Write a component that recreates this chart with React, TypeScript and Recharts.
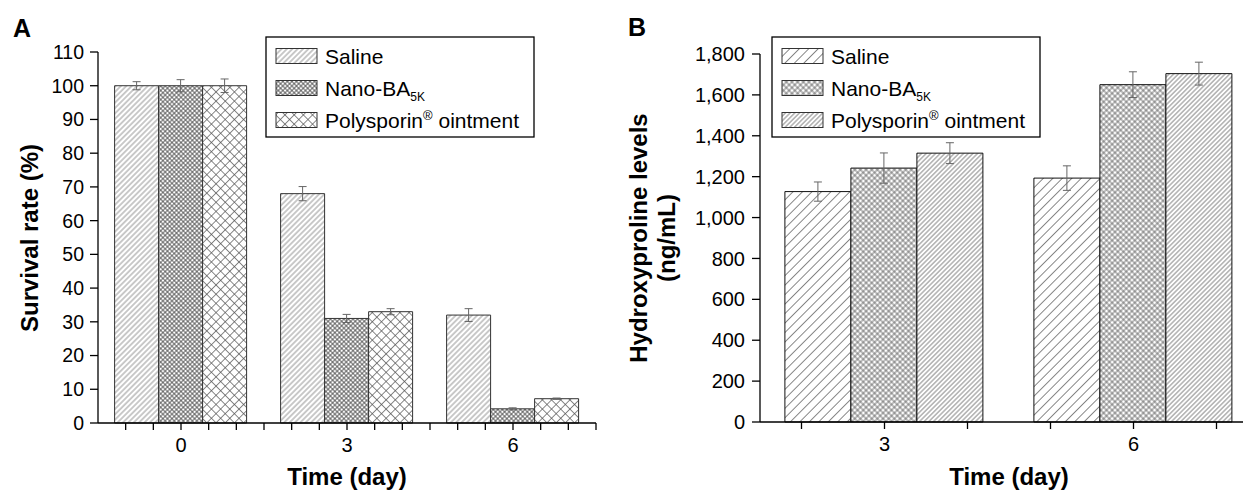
import React from 'react';
import { BarChart, Bar, XAxis, YAxis, ErrorBar } from 'recharts';

// panel A: survival rate
const daysA = ['0', '3', '6'];
const salineA = [100, 68, 32];
const salineAErr = [1.2, 2.1, 1.9];
const nanoA = [100, 31, 4.2];
const nanoAErr = [1.8, 1.2, 0.3];
const polyA = [100, 33, 7.2];
const polyAErr = [2.0, 0.9, 0.2];
const ticksA = [0, 10, 20, 30, 40, 50, 60, 70, 80, 90, 100, 110];

// panel B: hydroxyproline
const daysB = ['3', '6'];
const salineB = [1127, 1193];
const salineBErr = [47, 60];
const nanoB = [1242, 1650];
const nanoBErr = [74, 63];
const polyB = [1315, 1704];
const polyBErr = [51, 56];
const ticksB = [0, 200, 400, 600, 800, 1000, 1200, 1400, 1600, 1800];

const dataA = daysA.map((day, i) => ({
    day,
    saline: salineA[i], salineErr: salineAErr[i],
    nano: nanoA[i], nanoErr: nanoAErr[i],
    poly: polyA[i], polyErr: polyAErr[i],
}));

const dataB = daysB.map((day, i) => ({
    day,
    saline: salineB[i], salineErr: salineBErr[i],
    nano: nanoB[i], nanoErr: nanoBErr[i],
    poly: polyB[i], polyErr: polyBErr[i],
}));

const FONT = '"Liberation Sans", Arial, Helvetica, sans-serif';
const TICK_LEN = 7;
const TICK_GAP = 8;

const Hatch = ({ id, size, cross = false, stroke = '#666', sw = 0.7 }) => (
    <pattern id={id} patternUnits="userSpaceOnUse" width={size} height={size} patternTransform="rotate(45)">
        <rect width={size} height={size} fill="#fff" />
        <line x1={size / 2} y1={0} x2={size / 2} y2={size} stroke={stroke} strokeWidth={sw} />
        {cross && <line x1={0} y1={size / 2} x2={size} y2={size / 2} stroke={stroke} strokeWidth={sw} />}
    </pattern>
);

// category tick with the extra little tick marks between groups
const makeTick = (steps: number[], div: number) => (props) => {
    const { x, y, payload } = props;
    const band = (payload.offset || 0) * 2;
    const axisY = y - TICK_LEN - TICK_GAP;
    return (
        <g>
            {steps.map(k => (
                <line key={k} x1={x + k * band / div} x2={x + k * band / div} y1={axisY} y2={axisY + TICK_LEN} stroke="#000" strokeWidth={1.3} />
            ))}
            <text x={x} y={y} dy="0.71em" textAnchor="middle" fontSize={20} fontFamily={FONT} fill="#000">{payload.value}</text>
        </g>
    );
};

const tickA = makeTick([-2, -1, 0, 1, 2, 3], 6);
const tickB = makeTick([-1, 0, 1], 3);

const LegendBox = ({ x, y, ids }) => {
    const rows = [
        { id: ids[0], label: <tspan>Saline</tspan> },
        { id: ids[1], label: <><tspan>Nano-BA</tspan><tspan fontSize={12} dy={5}>5K</tspan></> },
        { id: ids[2], label: <><tspan>Polysporin</tspan><tspan fontSize={13} dy={-8}>®</tspan><tspan dy={8}> ointment</tspan></> },
    ];
    return (
        <g>
            <rect x={x} y={y} width={268} height={100} fill="#fff" stroke="#000" strokeWidth={1.3} />
            {rows.map((r, i) => (
                <g key={i}>
                    <rect x={x + 10} y={y + 11.5 + i * 32} width={41} height={15} fill={`url(#${r.id})`} stroke="#333" strokeWidth={1} />
                    <text x={x + 59} y={y + 26.5 + i * 32} fontSize={21} fontFamily={FONT} fill="#000">{r.label}</text>
                </g>
            ))}
        </g>
    );
};

const axisStyle = { stroke: '#000', strokeWidth: 1.3 };
const yTickA = { fill: '#000', fontSize: 19.5, fontFamily: FONT };
const yTickB = { fill: '#000', fontSize: 20, fontFamily: FONT };

export default function App() {
    return (
        <div style={{ position: 'absolute', left: 0, top: 0, width: 1243, height: 493, overflow: 'hidden', background: '#fff' }}>
            <div style={{ position: 'absolute', left: 0, top: 0 }}>
                <BarChart width={620} height={493} data={dataA} margin={{ top: 52, right: 24, bottom: 40, left: 38 }} barCategoryGap="10%" barGap={0}>
                    <XAxis dataKey="day" interval={0} height={30} tickSize={TICK_LEN} tickMargin={TICK_GAP} tickLine={false} axisLine={axisStyle} tick={tickA} />
                    <YAxis domain={[0, 110]} ticks={ticksA} width={60} tickSize={8} tickMargin={6} axisLine={axisStyle} tickLine={axisStyle} tick={yTickA} />
                    <Bar dataKey="saline" fill="url(#aSal)" stroke="#333" strokeWidth={1} isAnimationActive={false}>
                        <ErrorBar dataKey="salineErr" width={4} stroke="#666" strokeWidth={1} isAnimationActive={false} />
                    </Bar>
                    <Bar dataKey="nano" fill="url(#aNano)" stroke="#333" strokeWidth={1} isAnimationActive={false}>
                        <ErrorBar dataKey="nanoErr" width={4} stroke="#666" strokeWidth={1} isAnimationActive={false} />
                    </Bar>
                    <Bar dataKey="poly" fill="url(#aPoly)" stroke="#333" strokeWidth={1} isAnimationActive={false}>
                        <ErrorBar dataKey="polyErr" width={4} stroke="#666" strokeWidth={1} isAnimationActive={false} />
                    </Bar>
                </BarChart>
            </div>
            <div style={{ position: 'absolute', left: 620, top: 0 }}>
                <BarChart width={658} height={493} data={dataB} margin={{ top: 54, right: 20, bottom: 41, left: 60 }} barCategoryGap="10%" barGap={0}>
                    <XAxis dataKey="day" interval={0} height={30} tickSize={TICK_LEN} tickMargin={TICK_GAP} tickLine={false} axisLine={axisStyle} tick={tickB} />
                    <YAxis domain={[0, 1800]} ticks={ticksB} width={80} tickSize={8} tickMargin={7} axisLine={axisStyle} tickLine={axisStyle} tick={yTickB}
                        tickFormatter={(v) => v.toLocaleString('en-US')} />
                    <Bar dataKey="saline" fill="url(#bSal)" stroke="#111" strokeWidth={1} isAnimationActive={false}>
                        <ErrorBar dataKey="salineErr" width={4} stroke="#666" strokeWidth={1} isAnimationActive={false} />
                    </Bar>
                    <Bar dataKey="nano" fill="url(#bNano)" stroke="#111" strokeWidth={1} isAnimationActive={false}>
                        <ErrorBar dataKey="nanoErr" width={4} stroke="#666" strokeWidth={1} isAnimationActive={false} />
                    </Bar>
                    <Bar dataKey="poly" fill="url(#bPoly)" stroke="#111" strokeWidth={1} isAnimationActive={false}>
                        <ErrorBar dataKey="polyErr" width={4} stroke="#666" strokeWidth={1} isAnimationActive={false} />
                    </Bar>
                </BarChart>
            </div>
            <svg width={1243} height={493} style={{ position: 'absolute', left: 0, top: 0, pointerEvents: 'none' }}>
                <defs>
                    <Hatch id="aSal" size={3.8} />
                    <Hatch id="aNano" size={3.2} cross stroke="#444" sw={0.8} />
                    <Hatch id="aPoly" size={6.5} cross stroke="#555" />
                    <Hatch id="bSal" size={6.7} stroke="#555" />
                    <Hatch id="bNano" size={4} cross stroke="#444" />
                    <Hatch id="bPoly" size={3.3} stroke="#555" />
                </defs>
                <text x={13} y={37} fontSize={25} fontWeight="bold" fontFamily={FONT}>A</text>
                <text x={628} y={36} fontSize={25} fontWeight="bold" fontFamily={FONT}>B</text>
                <text transform="translate(38,238) rotate(-90)" textAnchor="middle" fontSize={24} fontWeight="bold" fontFamily={FONT}>Survival rate (%)</text>
                <text x={347} y={485} textAnchor="middle" fontSize={24} fontWeight="bold" fontFamily={FONT}>Time (day)</text>
                <text transform="translate(647,238) rotate(-90)" textAnchor="middle" fontSize={24} fontWeight="bold" fontFamily={FONT}>Hydroxyproline levels</text>
                <text transform="translate(675,238) rotate(-90)" textAnchor="middle" fontSize={24} fontWeight="bold" fontFamily={FONT}>(ng/mL)</text>
                <text x={1009} y={485} textAnchor="middle" fontSize={24} fontWeight="bold" fontFamily={FONT}>Time (day)</text>
                <LegendBox x={266} y={37} ids={['aSal', 'aNano', 'aPoly']} />
                <LegendBox x={772} y={37} ids={['bSal', 'bNano', 'bPoly']} />
            </svg>
        </div>
    );
}
